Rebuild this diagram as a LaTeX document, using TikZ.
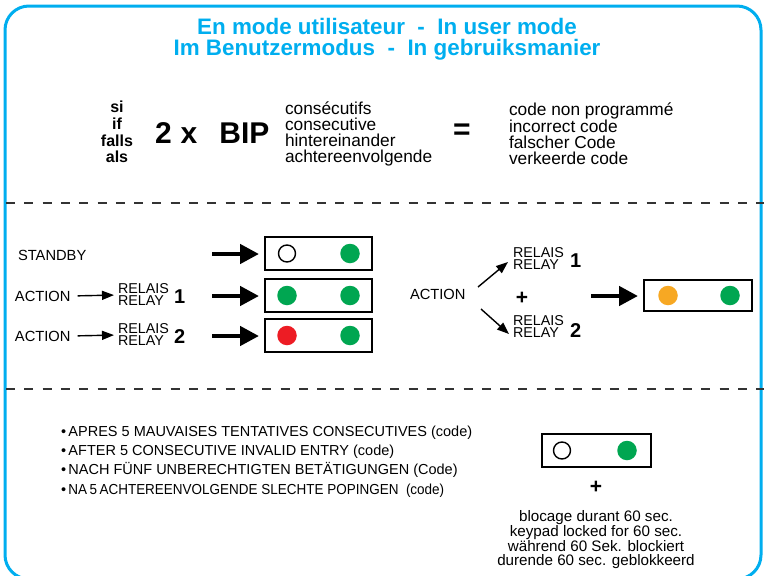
\documentclass[tikz,border=0pt]{standalone}
\usepackage{fontspec}
\setmainfont{Liberation Sans}
\newfontfamily\condfont[FakeStretch=0.93]{Liberation Sans}
\usetikzlibrary{arrows.meta}
\definecolor{frameblue}{RGB}{0,174,239}
\definecolor{ledgreen}{RGB}{0,166,81}
\definecolor{ledred}{RGB}{237,28,36}
\definecolor{ledorange}{RGB}{247,168,35}
\begin{document}
\begin{tikzpicture}[x=1pt,y=-1pt,
  every node/.style={inner sep=0pt,outer sep=0pt},
  panel/.style={draw,line width=1.8pt,minimum width=107pt,minimum height=33pt},
  ledoff/.style={circle,draw,line width=1.4pt,minimum size=17pt},
  ledon/.style={circle,fill=#1,minimum size=19.5pt},
  bigarrow/.style={line width=4.5pt,-{Triangle[length=19pt,width=19pt]}},
  thinarrow/.style={line width=1.4pt,-{Triangle[length=12pt,width=9pt]}},
  dashline/.style={dash pattern=on 9pt off 9.3pt,line width=1.3pt,draw=black!80},
  lbl/.style={anchor=west,font=\fontsize{14.7}{14.7}\selectfont},
  relay/.style={anchor=west,align=left,font=\fontsize{14.3}{12}\selectfont},
  relnum/.style={anchor=west,font=\bfseries\fontsize{20}{20}\selectfont},
  plus/.style={font=\bfseries\fontsize{21}{21}\selectfont}
]
\useasboundingbox (0,0) rectangle (764,576);
% frame
\draw[frameblue,line width=3pt,rounded corners=24pt] (5,6) rectangle (761,579);
% dashed separators
\draw[dashline] (6,203) -- (764,203);
\draw[dashline] (6,389) -- (764,389);
% title
\node[text=frameblue,font=\bfseries\fontsize{22.4}{21}\selectfont,align=center] (title) at (387,39.5)
  {En mode utilisateur\ \ -\ \ In user mode\\Im Benutzermodus\ \ -\ \ In gebruiksmanier};
% top section
\node[font=\bfseries\fontsize{16}{16.7}\selectfont,align=center] (si) at (117,132) {si\\if\\falls\\als};
\node[anchor=west,font=\bfseries\fontsize{30}{30}\selectfont] (bip) at (155,133) {2\hspace{9pt}x\hspace{22pt}BIP};
\node[anchor=west,align=left,font=\fontsize{17.3}{16}\selectfont] (cons) at (285,134)
  {consécutifs\\consecutive\\hintereinander\\achtereenvolgende};
\node[font=\bfseries\fontsize{30}{30}\selectfont] (eq) at (462,132) {=};
\node[anchor=west,align=left,font=\fontsize{17.3}{16}\selectfont] (codes) at (509,134)
  {code non programmé\\incorrect code\\falscher Code\\verkeerde code};
% left rows
\node[lbl] (standby) at (18,255) {STANDBY};
\node[lbl] (act2) at (15,296) {ACTION};
\node[relay] (rel2) at (118,295) {RELAIS\\RELAY};
\node[relnum] (n2) at (174,297) {1};
\node[lbl] (act3) at (15,336) {ACTION};
\node[relay] (rel3) at (118,335) {RELAIS\\RELAY};
\node[relnum] (n3) at (174,337) {2};
\draw[thinarrow,shorten <=7pt,shorten >=4pt] (act2.east) -- (rel2.west);
\draw[thinarrow,shorten <=7pt,shorten >=4pt] (act3.east) -- (rel3.west);
% panels
\node[panel] (p1) at (318.5,253.5) {};
\node[panel] (p2) at (318.5,295.5) {};
\node[panel] (p3) at (318.5,335.5) {};
\node[ledoff] (p1a) at (287,253.5) {};
\node[ledon=ledgreen] (p1b) at (350,253.5) {};
\node[ledon=ledgreen] (p2a) at (287,295.5) {};
\node[ledon=ledgreen] (p2b) at (350,295.5) {};
\node[ledon=ledred] (p3a) at (287,335.5) {};
\node[ledon=ledgreen] (p3b) at (350,335.5) {};
\coordinate (s1) at (212,254);
\coordinate (s2) at (212,296);
\coordinate (s3) at (212,336);
\draw[bigarrow,shorten >=6pt] (s1) -- (p1.west |- s1);
\draw[bigarrow,shorten >=6pt] (s2) -- (p2.west |- s2);
\draw[bigarrow,shorten >=6pt] (s3) -- (p3.west |- s3);
% right combined
\node[lbl] (act4) at (410,294) {ACTION};
\node[relay] (rel4a) at (513,259) {RELAIS\\RELAY};
\node[relnum] (n4a) at (570,261) {1};
\node[plus] (plus1) at (522,298) {+};
\node[relay] (rel4b) at (513,327) {RELAIS\\RELAY};
\node[relnum] (n4b) at (570,331) {2};
\coordinate (f1s) at (478,287);
\coordinate (f1e) at (508,262);
\coordinate (f2s) at (481,309);
\coordinate (f2e) at (509,334);
\draw[thinarrow] (f1s) -- (f1e);
\draw[thinarrow] (f2s) -- (f2e);
\node[panel,minimum width=108pt,minimum height=31pt] (p4) at (698,295.5) {};
\node[ledon=ledorange] (p4a) at (668,295.5) {};
\node[ledon=ledgreen] (p4b) at (730,295.5) {};
\coordinate (s4) at (591,296);
\draw[bigarrow,shorten >=6pt] (s4) -- (p4.west |- s4);
% bottom section
\node[anchor=west,align=left,font=\fontsize{14.5}{19.3}\selectfont] (bul) at (61,461.5)
  {\textbullet\,APRES 5 MAUVAISES TENTATIVES CONSECUTIVES (code)\\
   \textbullet\,AFTER 5 CONSECUTIVE INVALID ENTRY (code)\\
   \textbullet\,NACH FÜNF UNBERECHTIGTEN BETÄTIGUNGEN (Code)\\
   \textbullet\,{\condfont NA\,5\,ACHTEREENVOLGENDE SLECHTE POPINGEN\ \ (code)}};
\node[panel,minimum width=109pt,minimum height=33pt] (p5) at (596.5,450.5) {};
\node[ledoff] (p5a) at (562,450.5) {};
\node[ledon=ledgreen] (p5b) at (627,450.5) {};
\node[plus] (plus2) at (596,487) {+};
\node[align=center,font=\fontsize{15.2}{14}\selectfont] (lock) at (596,539.5)
  {blocage durant 60 sec.\\keypad locked for 60 sec.\\während 60 Sek. blockiert\\durende 60 sec. geblokkeerd};
\end{tikzpicture}
\end{document}
